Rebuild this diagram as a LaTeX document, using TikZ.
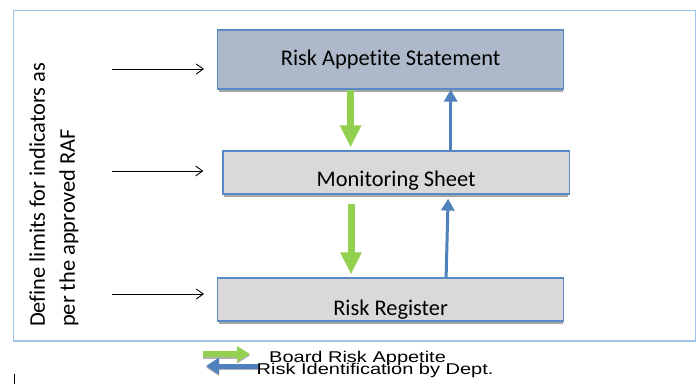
\documentclass[tikz,border=0pt]{standalone}
\usepackage{fontspec}
\setmainfont{Carlito}[Ligatures=NoCommon]
\newfontfamily\legendfont{Liberation Sans}
\usetikzlibrary{arrows.meta,shadows}
\definecolor{framecol}{HTML}{9DC3E6}
\definecolor{boxline}{HTML}{5A8AC6}
\definecolor{rasfill}{HTML}{ADB9CA}
\definecolor{sheetfill}{HTML}{D9D9D9}
\definecolor{boardgreen}{HTML}{92D050}
\definecolor{deptblue}{HTML}{4F81BD}

\begin{document}
\begin{tikzpicture}[x=1pt,y=-1pt,
  box/.style={draw=boxline,line width=1.2pt,inner sep=0pt,
    drop shadow={shadow scale=0.994,shadow xshift=0pt,shadow yshift=-3pt,fill=black!35,opacity=1}},
  boardarrow/.style={draw=boardgreen,line width=7pt,-{Triangle[width=20pt,length=22pt]}},
  deptarrow/.style={draw=deptblue,line width=3pt,-{Triangle[width=13pt,length=12pt]}},
  limitarrow/.style={draw=black,line width=0.9pt,-{Straight Barb[width=10pt,length=7pt]}},
  legendtext/.style={anchor=base west,inner sep=0pt,yscale=0.78,font=\legendfont\fontsize{20}{20}\selectfont}]
\useasboundingbox (0,0) rectangle (700,385);

% outer frame
\draw[framecol,line width=1.3pt] (13.5,10.6) rectangle (695.5,341);

% boxes
\node[box,fill=rasfill,minimum width=346pt,minimum height=59pt,font=\fontsize{22.4}{26}\selectfont] (ras) at (390.6,59.5) {Risk Appetite Statement};
\node[box,fill=sheetfill,minimum width=346.5pt,minimum height=43pt,text height=28.4pt,text depth=0pt,font=\fontsize{22.4}{26}\selectfont] (mon) at (396.2,172.5) {Monitoring Sheet};
\node[box,fill=sheetfill,minimum width=346pt,minimum height=43pt,text height=31pt,text depth=0pt,font=\fontsize{22.4}{26}\selectfont] (reg) at (390.6,299.5) {Risk Register};

% green and blue flows
\draw[boardarrow,shorten >=3pt] ([xshift=-40pt]ras.south) -- ([xshift=-40pt]ras.south |- mon.north);
\draw[boardarrow,shorten <=9pt,shorten >=3pt] ([xshift=-45.2pt]mon.south) -- ([xshift=-45.2pt]mon.south |- reg.north);
\draw[deptarrow] ([xshift=54.5pt]mon.north) -- ([xshift=54.5pt]mon.north |- ras.south);
\draw[deptarrow,shorten >=4pt] ([xshift=55.5pt]reg.north) -- ([xshift=52pt]mon.south);

% side text and arrows
\node[rotate=90,anchor=north west,inner sep=0pt,align=left,font=\fontsize{22.4}{30}\selectfont] (raf) at (29,327) {Define limits for indicators as\\per the approved RAF};
\coordinate (d1) at (112,69);
\coordinate (d2) at (112,171);
\coordinate (d3) at (112,294);
\draw[limitarrow,shorten >=13pt] (d1) -- (d1 -| ras.west);
\draw[limitarrow,shorten >=19pt] (d2) -- (d2 -| mon.west);
\draw[limitarrow,shorten >=13pt] (d3) -- (d3 -| reg.west);

% legend
\coordinate (g1) at (203,354);
\coordinate (g2) at (250,354);
\coordinate (b1) at (258,366);
\coordinate (b2) at (206,366);
\draw[boardarrow,draw=black!30,line width=6pt,-{Triangle[width=15pt,length=13pt]},transform canvas={yshift=-1.5pt}] (g1) -- (g2);
\draw[boardarrow,line width=6pt,-{Triangle[width=15pt,length=13pt]}] (g1) -- (g2);
\draw[deptarrow,draw=black!30,line width=5pt,-{Triangle[width=16pt,length=13pt]},transform canvas={yshift=-1.5pt}] (b1) -- (b2);
\draw[deptarrow,line width=5pt,-{Triangle[width=16pt,length=13pt]}] (b1) -- (b2);
\node[legendtext] (lboard) at (269,362) {Board Risk Appetite};
\node[legendtext] (ldept) at (256.5,374) {Risk Identification by Dept.};

\draw[line width=0.8pt] (14,374) -- (14,384);

\end{tikzpicture}
\end{document}
